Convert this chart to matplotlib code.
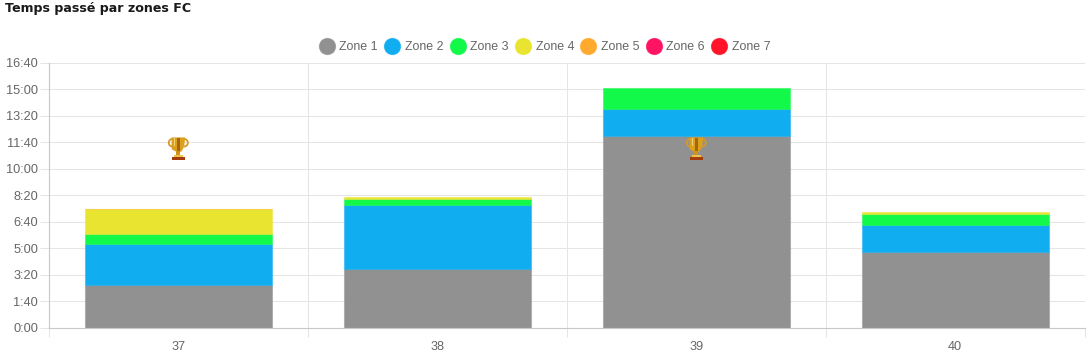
import matplotlib
matplotlib.use("Agg")
import matplotlib.pyplot as plt
import numpy as np
from matplotlib.colors import to_rgba
from matplotlib.lines import Line2D
from matplotlib.offsetbox import AnnotationBbox, DrawingArea
from matplotlib.patches import Arc, PathPatch, Rectangle
from matplotlib.path import Path
from matplotlib.ticker import FuncFormatter

plt.rcParams["font.family"] = ["Liberation Sans", "DejaVu Sans"]

weeks = ["37", "38", "39", "40"]
zone_labels = ["Zone 1", "Zone 2", "Zone 3", "Zone 4", "Zone 5", "Zone 6", "Zone 7"]
zone_colors = ["#919191", "#10adf0", "#13f94a", "#e9e430", "#ffa92e", "#ff1463", "#ff1428"]

# seconds per zone, one value per week
zone1 = [160, 221, 722, 286]
zone2 = [157, 243, 102, 100]
zone3 = [38, 23, 79, 42]
zone4 = [92, 7, 0, 9]
zone5 = [1, 0, 0, 0]
zone6 = [0, 0, 0, 0]
zone7 = [0, 0, 0, 0]
zones = [zone1, zone2, zone3, zone4, zone5, zone6, zone7]

# weeks with a record, and the height the trophy sits at
trophy_weeks = [0, 2]
trophy_seconds = [675, 675]

W, H = 1090, 359
GRID = "#e5e5e5"
AXIS = "#c8c8c8"
TEXT = "#666666"


def fmt_time(v, _pos=None):
    v = int(round(v))
    return f"{v // 60}:{v % 60:02d}"


def trophy():
    # drawn in a 21x23 box, pixel units scaled to points
    s = 0.72
    da = DrawingArea(21 * s, 23 * s, 0, 0)

    def add(patch):
        da.add_artist(patch)

    for cx, t1, t2 in [(4.5, 80, 280), (16.5, -100, 100)]:
        add(Arc((cx * s, 17.5 * s), 7 * s, 7.5 * s, theta1=t1, theta2=t2,
                color="#d49a28", linewidth=1.3))
    cup = Path(
        [(3.8, 22.8), (17.2, 22.8), (17.2, 11), (12.5, 8), (10.5, 8),
         (8.5, 8), (3.8, 11), (3.8, 22.8), (3.8, 22.8)],
        [Path.MOVETO, Path.LINETO, Path.CURVE3, Path.CURVE3, Path.LINETO,
         Path.CURVE3, Path.CURVE3, Path.LINETO, Path.CLOSEPOLY],
    )
    cup = Path(cup.vertices * s, cup.codes)
    add(PathPatch(cup, facecolor="#dd9f1e", edgecolor="none"))
    add(Rectangle((9 * s, 9.5 * s), 3 * s, 13 * s, facecolor="#a4680c", edgecolor="none"))
    add(Rectangle((5.8 * s, 14 * s), 1.6 * s, 8 * s, facecolor="#f5d271", edgecolor="none"))
    add(Rectangle((8.5 * s, 4.5 * s), 4 * s, 5 * s, facecolor="#cf921b", edgecolor="none"))
    add(Rectangle((6 * s, 2.6 * s), 9 * s, 2.6 * s, facecolor="#efc04a", edgecolor="none"))
    add(Rectangle((4 * s, 0 * s), 13 * s, 2.8 * s, facecolor="#a33d0c", edgecolor="none"))
    return da


fig = plt.figure(figsize=(W / 100, H / 100), dpi=100)
ax = fig.add_axes([48.8 / W, 1 - 327.6 / H, 1036 / W, 265 / H])

x = np.arange(len(weeks))
bottom = np.zeros(len(weeks))
for values, label, color in zip(zones, zone_labels, zone_colors):
    widths = [0.8 if v > 0 else 0 for v in values]
    ax.bar(x, values, width=0.72, bottom=bottom, label=label,
           facecolor=color, edgecolor=to_rgba(color, 0.45), linewidth=widths, zorder=2)
    bottom += np.array(values)

for week, sec in zip(trophy_weeks, trophy_seconds):
    ax.add_artist(AnnotationBbox(trophy(), (week, sec), frameon=False, pad=0,
                                 box_alignment=(0.5, 0.5), zorder=4))

ax.set_xlim(-0.5, 3.5)
ax.set_ylim(0, 1000)
ax.set_yticks(np.arange(0, 1001, 100))
ax.yaxis.set_major_formatter(FuncFormatter(fmt_time))
ax.set_xticks(np.arange(-0.5, 3.6, 1))
ax.set_xticklabels([])
ax.set_xticks(x, minor=True)
ax.set_xticklabels(weeks, minor=True)

ax.grid(True, which="major", color=GRID, linewidth=0.75, zorder=0)
ax.set_axisbelow(True)
ax.tick_params(axis="both", which="major", length=6.3, width=0.75, color=GRID,
               labelsize=9.2, labelcolor=TEXT, pad=1.5)
ax.tick_params(axis="x", which="minor", length=0, labelsize=9.2, labelcolor=TEXT, pad=9.5)
for side in ["top", "right"]:
    ax.spines[side].set_visible(False)
for side in ["left", "bottom"]:
    ax.spines[side].set_color(AXIS)
    ax.spines[side].set_linewidth(0.8)

handles = [Line2D([], [], linestyle="none", marker="o", markersize=12,
                  markerfacecolor=c, markeredgecolor=to_rgba(c, 0.45), markeredgewidth=0.5)
           for c in zone_colors]
fig.legend(handles, zone_labels, loc="center", bbox_to_anchor=(545 / W, 1 - 47 / H),
           ncol=7, frameon=False, fontsize=8.9, labelcolor=TEXT, handlelength=1.1,
           handletextpad=0.47, columnspacing=0.61, borderpad=0, borderaxespad=0)

fig.text(5 / W, 1 - 8.5 / H, "Temps passé par zones FC", ha="left", va="center",
         fontsize=9.1, fontweight="bold", family=["DejaVu Sans"], color="#1a1a1a")

fig.savefig("out.png", dpi=100)
